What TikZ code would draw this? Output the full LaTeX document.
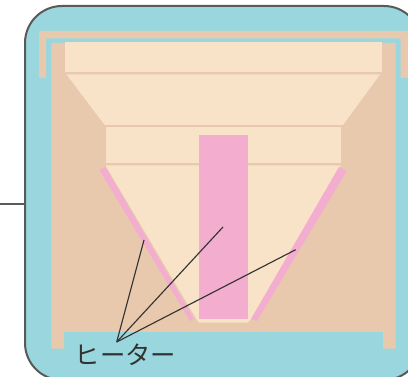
\documentclass[tikz,border=0pt]{standalone}
\usepackage{fontspec}
\newfontfamily\cjk{Noto Sans CJK JP}
\definecolor{wall}{HTML}{E8C9AD}
\definecolor{cream}{HTML}{F8E2C8}
\definecolor{heat}{HTML}{F3ADCF}
\definecolor{water}{HTML}{9AD6DD}
\begin{document}
\begin{tikzpicture}[x=0.75pt, y=-0.75pt, wallpart/.style = {fill=wall}, creampart/.style = {fill=cream}, heatpart/.style = {fill=heat}, leader/.style = {draw=black!80, line width=0.85pt}, label/.style = {inner sep=0pt, text=black!80, font=\cjk\fontsize{19}{20}\selectfont}]
            \useasboundingbox (0,0) rectangle (408,377);
            \clip (0,0) rectangle (408,377);

            % casing
            \path[fill=water, draw=black!65, line width=1.5pt, rounded corners=27.75pt] (25,6) rectangle (421,380);
            \coordinate (stub) at (0,204);
            \coordinate (casing) at (25,204);
            \draw[black!65, line width=1.5pt] (stub) -- (casing);

            % lid and body
            \path[wallpart] (39,78) -- (39,31) -- (408,31) -- (408,78) -- (400.7,78) -- (400.7,38.5) -- (46,38.5) -- (46,78) -- cycle;
            \path[wallpart] (51.3,43) -- (395.7,43) -- (395.7,348.7) -- (383,348.7) -- (383,332) -- (64,332) -- (64,348.7) -- (51.3,348.7) -- cycle;

            % vessel
            \path[creampart] (65,42) rectangle (381.7,72);
            \path[creampart] (66.5,74.5) -- (380,74.5) -- (343,125) -- (104.7,125) -- cycle;
            \path[creampart] (105.5,127.5) rectangle (341,163);
            \path[creampart] (105.5,165.5) -- (341,165.5) -- (250.5,320) -- (247,322.7) -- (199,322.7) -- (197,320) -- cycle;

            % heaters
            \path[heatpart] (199,135) rectangle (248,319);
            \path[heatpart] (99.5,170) -- (105.5,167) -- (194,319) -- (190,321) -- cycle;
            \path[heatpart] (339,167) -- (346.7,171) -- (257,321) -- (251,319) -- cycle;

            % labels
            \node[label] (heater) at (125.5,354.7) {ヒーター};
            \coordinate (apex) at (116.7,342);
            \coordinate (left) at (144,240);
            \coordinate (middle) at (223,227);
            \coordinate (right) at (295.7,249.7);
            \path[leader] (apex) -- (left);
            \path[leader] (apex) -- (middle);
            \path[leader] (apex) -- (right);
        \end{tikzpicture}
\end{document}
